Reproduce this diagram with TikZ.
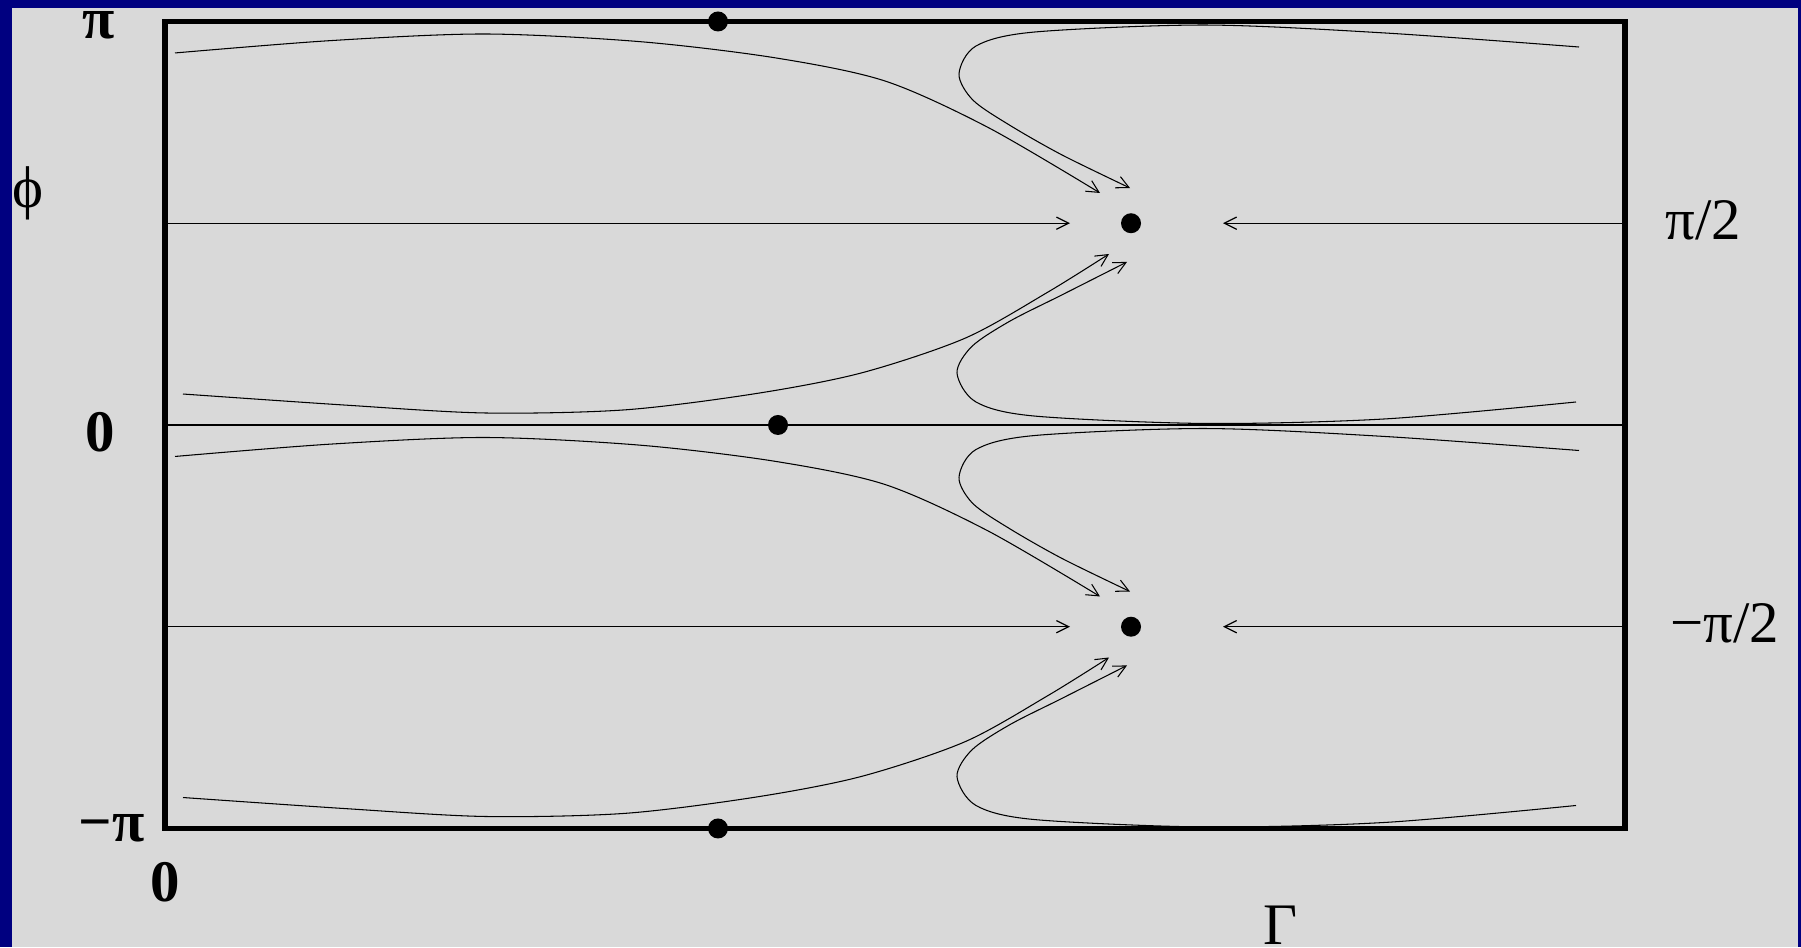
\documentclass[tikz,border=0pt]{standalone}
\usepackage{fontspec}
\setmainfont{Liberation Serif}
\usetikzlibrary{arrows.meta}
\definecolor{slidenavy}{RGB}{0,0,128}
\definecolor{panelgray}{RGB}{217,217,217}

\begin{document}
\begin{tikzpicture}[x=2cm,y=2.0175cm,>={Straight Barb[length=7pt,width=7pt]},
    flow/.style={line width=0.6pt},
    axisline/.style={line width=0.7pt},
    fixpt/.style={fill=black},
    lbl/.style={inner sep=0pt,font=\fontsize{33.5}{40}\selectfont}]
    \useasboundingbox (-1.65,-5.175) rectangle (16.36,4.213);
    \fill[slidenavy] (-1.65,-5.175) rectangle (16.36,4.213);
    \fill[panelgray] (-1.53,-5.175) rectangle (16.33,4.134);
    % flow lines, one cell of height pi, repeated
    \foreach \s in {0,-4}{
      \begin{scope}[shift={(0,\s)}]
        \draw[flow,->] plot[smooth] coordinates {(0.10,3.688) (1.65,3.81) (3.20,3.876) (4.75,3.80) (6.1,3.64) (7.2,3.41) (8.23,2.95) (9.35,2.300)};
        \draw[flow,->] plot[smooth] coordinates {(14.14,3.747) (12.20,3.886) (10.4,3.965) (8.69,3.895) (8.11,3.757) (7.94,3.48) (8.08,3.22) (8.45,2.97) (8.97,2.677) (9.65,2.349)};
        \draw[flow,->] plot[smooth] coordinates {(0.18,0.307) (1.79,0.198) (3.20,0.119) (4.6,0.15) (5.9,0.31) (6.96,0.515) (8.0,0.86) (8.83,1.318) (9.44,1.695)};
        \draw[flow,->] plot[smooth] coordinates {(14.11,0.228) (12.2,0.06) (10.4,0.015) (8.69,0.089) (8.11,0.228) (7.92,0.515) (8.07,0.78) (8.45,1.03) (8.97,1.29) (9.62,1.616)};
        \draw[axisline,->] (0,2) -- (9.05,2);
        \draw[axisline,->] (14.6,2) -- (10.58,2);
        \fill[fixpt] (9.66,2) circle (0.2cm);
      \end{scope}}
    \draw[axisline] (0,0) -- (14.6,0);
    \draw[line width=3pt] (0,-4) rectangle (14.6,4);
    \fill[fixpt] (5.53,4) circle (0.2cm);
    \fill[fixpt] (5.53,-4) circle (0.2cm);
    \fill[fixpt] (6.13,0) circle (0.2cm);
    % labels
    \node[lbl,anchor=east] (pitop) at (-0.5,3.96) {\textbf{π}};
    \node[lbl] (phi) at (-1.37,2.30) {ϕ};
    \node[lbl,anchor=east] (zeromid) at (-0.5,-0.07) {\textbf{0}};
    \node[lbl,anchor=east] (minuspi) at (-0.2,-4.0) {\textbf{−π}};
    \node[lbl] (zerogamma) at (0,-4.53) {\textbf{0}};
    \node[lbl,anchor=west] (pihalf) at (15.0,2.03) {π/2};
    \node[lbl,anchor=west] (minuspihalf) at (15.05,-1.97) {−π/2};
    \node[lbl,anchor=north] (gamma) at (11.16,-4.76) {Γ};
\end{tikzpicture}
\end{document}
